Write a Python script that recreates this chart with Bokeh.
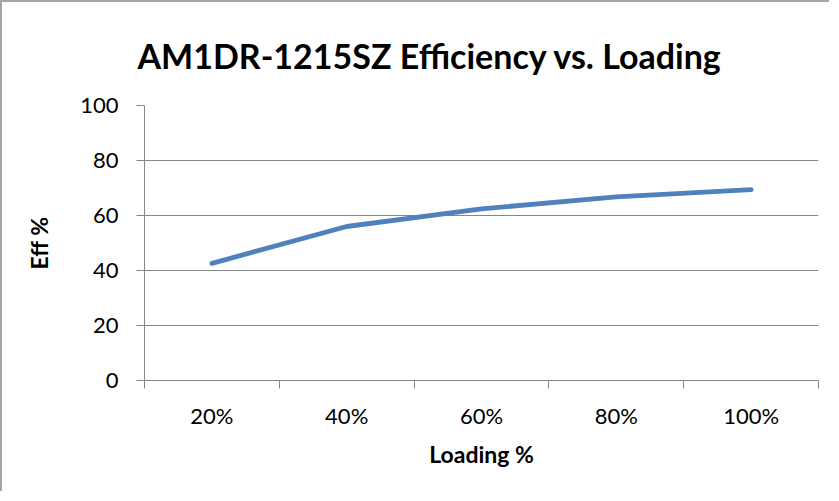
from bokeh.plotting import figure
from bokeh.models import FixedTicker, Range1d
from bokeh.embed import file_html
from bokeh.resources import INLINE

categories = ["20%", "40%", "60%", "80%", "100%"]
efficiency = [42.6, 56.0, 62.4, 66.8, 69.4]
y_ticks = [0, 20, 40, 60, 80, 100]

x_pos = list(range(len(categories)))
boundaries = [i - 0.5 for i in range(len(categories) + 1)]

FONT = "Lato"
GRID = "#868686"

p = figure(width=829, height=491, output_backend="svg", toolbar_location=None,
           x_range=Range1d(-0.5, len(categories) - 0.5), y_range=Range1d(0, 100),
           min_border_left=142, min_border_right=13, min_border_top=103,
           min_border_bottom=113)
p.styles = {"border-top": "2px solid #a6a6a6", "border-left": "2px solid #a6a6a6"}
p.outline_line_color = None
p.background_fill_color = "white"
p.border_fill_color = "white"

p.title.text = "AM1DR-1215SZ Efficiency vs. Loading"
p.title.text_font = FONT
p.title.text_font_size = "34px"
p.title.text_font_style = "bold"
p.title.text_color = "black"
p.title.align = "left"
p.title.offset = -7
p.title.standoff = 60

p.line(x_pos, efficiency, line_width=4.8, color="#4F81BD",
       line_cap="round", line_join="round")

p.xgrid.visible = False
p.ygrid.ticker = FixedTicker(ticks=y_ticks)
p.ygrid.grid_line_color = GRID
p.ygrid.grid_line_width = 1

ya = p.yaxis[0]
ya.ticker = FixedTicker(ticks=y_ticks)
ya.axis_line_color = GRID
ya.major_tick_line_color = GRID
ya.major_tick_out = 8
ya.major_tick_in = 0
ya.minor_tick_line_color = None
ya.major_label_text_font = FONT
ya.major_label_text_font_size = "22px"
ya.major_label_text_color = "black"
ya.major_label_standoff = 18
ya.axis_label = "Eff %"
ya.axis_label_text_font = FONT
ya.axis_label_text_font_size = "23px"
ya.axis_label_text_font_style = "bold"
ya.axis_label_text_color = "black"
ya.axis_label_standoff = 24

xa = p.xaxis[0]
xa.ticker = FixedTicker(ticks=x_pos, minor_ticks=boundaries)
xa.major_label_overrides = {i: c for i, c in enumerate(categories)}
xa.axis_line_color = GRID
xa.major_tick_line_color = None
xa.major_tick_out = 0
xa.major_tick_in = 0
xa.minor_tick_line_color = GRID
xa.minor_tick_out = 8
xa.minor_tick_in = 0
xa.major_label_text_font = FONT
xa.major_label_text_font_size = "22px"
xa.major_label_text_color = "black"
xa.major_label_standoff = 13
xa.axis_label = "Loading %"
xa.axis_label_text_font = FONT
xa.axis_label_text_font_size = "23px"
xa.axis_label_text_font_style = "bold"
xa.axis_label_text_color = "black"
xa.axis_label_standoff = 8

open("out.html", "w").write(file_html(p, INLINE))
